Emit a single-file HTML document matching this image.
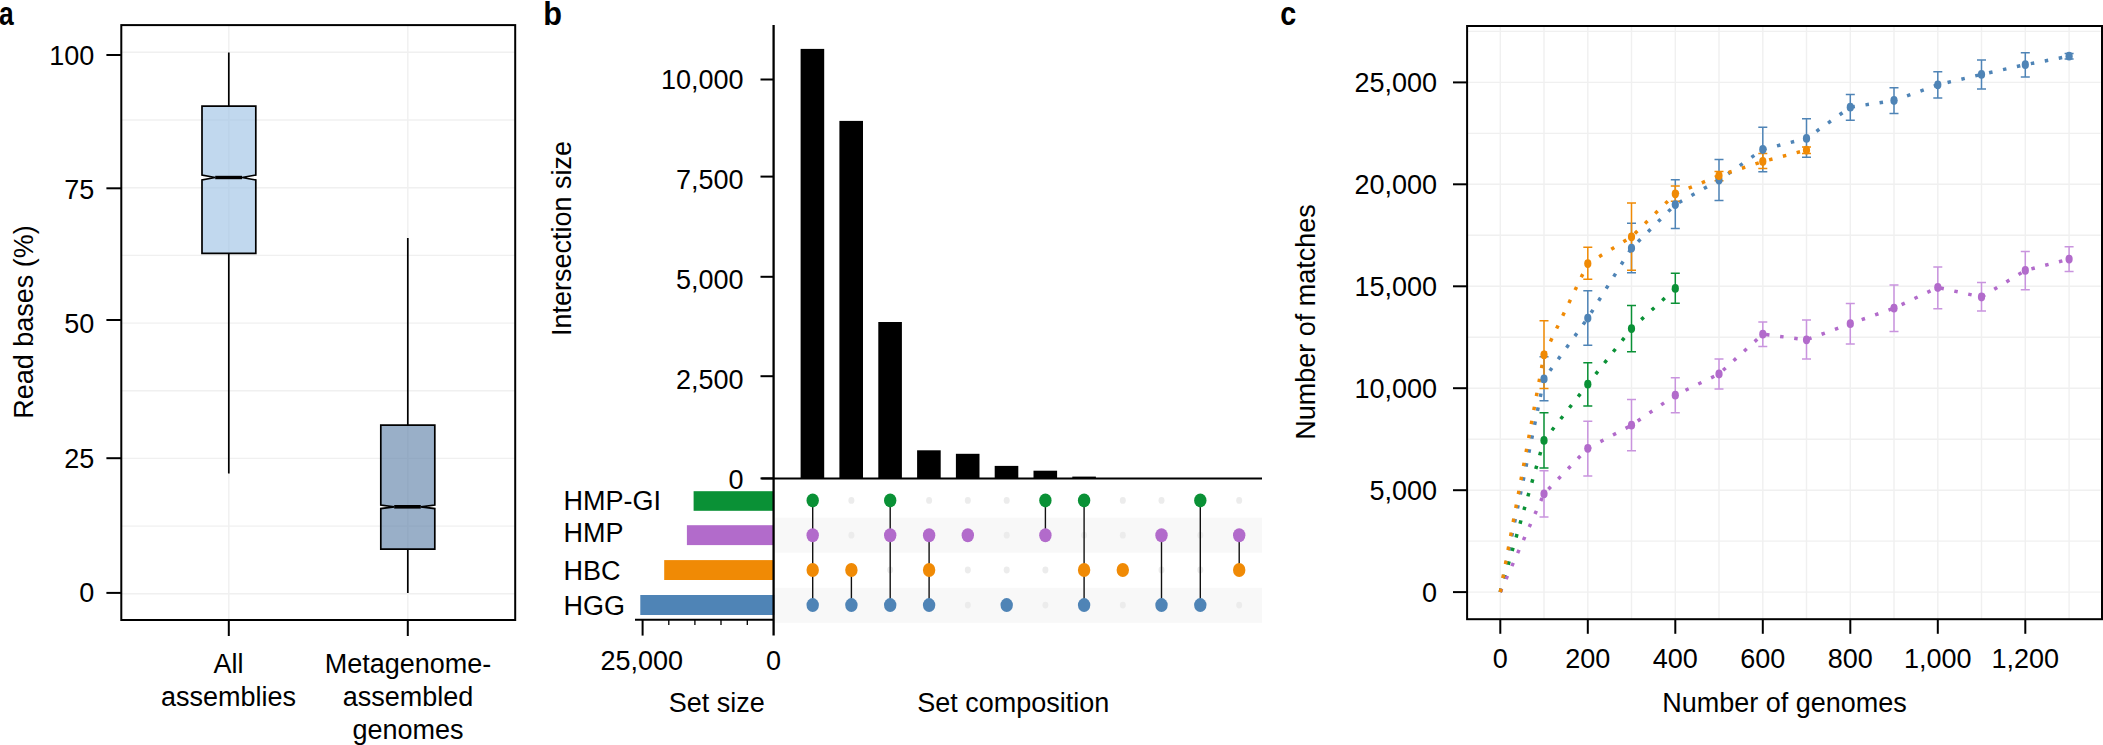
<!DOCTYPE html>
<html><head><meta charset="utf-8"><title>Figure</title>
<style>
html,body{margin:0;padding:0;background:#fff;overflow:hidden;}
svg{display:block;}
text{font-family:"Liberation Sans",Arial,Helvetica,sans-serif;font-size:27px;fill:#000;}
.pl{font-weight:bold;font-size:33px;}
</style></head><body>
<svg width="2103" height="745" viewBox="0 0 2103 745">
<rect width="2103" height="745" fill="#fff"/>
<g id="pa">
<line x1="121.3" x2="515.2" y1="52.3" y2="52.3" stroke="#f0f0f0" stroke-width="1.4"/>
<line x1="121.3" x2="515.2" y1="120.0" y2="120.0" stroke="#f0f0f0" stroke-width="1.4"/>
<line x1="121.3" x2="515.2" y1="187.7" y2="187.7" stroke="#f0f0f0" stroke-width="1.4"/>
<line x1="121.3" x2="515.2" y1="255.4" y2="255.4" stroke="#f0f0f0" stroke-width="1.4"/>
<line x1="121.3" x2="515.2" y1="323.1" y2="323.1" stroke="#f0f0f0" stroke-width="1.4"/>
<line x1="121.3" x2="515.2" y1="390.8" y2="390.8" stroke="#f0f0f0" stroke-width="1.4"/>
<line x1="121.3" x2="515.2" y1="458.4" y2="458.4" stroke="#f0f0f0" stroke-width="1.4"/>
<line x1="121.3" x2="515.2" y1="526.1" y2="526.1" stroke="#f0f0f0" stroke-width="1.4"/>
<line x1="121.3" x2="515.2" y1="593.8" y2="593.8" stroke="#f0f0f0" stroke-width="1.4"/>
<line x1="228.8" x2="228.8" y1="25.1" y2="620" stroke="#f0f0f0" stroke-width="1.4"/>
<line x1="407.8" x2="407.8" y1="25.1" y2="620" stroke="#f0f0f0" stroke-width="1.4"/>
<path d="M228.8 52.4 V106.2 M228.8 253.3 V473.4" stroke="#000" stroke-width="1.7" fill="none"/>
<path d="M407.8 238.1 V425.1 M407.8 549.2 V592.9" stroke="#000" stroke-width="1.7" fill="none"/>
<path d="M202 106.2 H255.8 V175 L242 177.5 L255.8 180 V253.3 H202 V180 L215.2 177.5 L202 175 Z" fill="#a0c3e5" fill-opacity="0.65" stroke="#000" stroke-width="1.7" stroke-linejoin="miter"/>
<line x1="215.2" x2="242" y1="177.5" y2="177.5" stroke="#000" stroke-width="3.4"/>
<path d="M380.8 425.1 H434.8 V505 L420.8 506.8 L434.8 508.6 V549.2 H380.8 V508.6 L394.2 506.8 L380.8 505 Z" fill="#6284aa" fill-opacity="0.65" stroke="#000" stroke-width="1.7"/>
<line x1="394.2" x2="420.8" y1="506.8" y2="506.8" stroke="#000" stroke-width="3.6"/>
<rect x="121.3" y="25.1" width="393.9" height="594.9" fill="none" stroke="#000" stroke-width="2"/>
<line x1="106.4" x2="121.3" y1="55" y2="55" stroke="#000" stroke-width="2"/>
<text x="94.3" y="64.5" text-anchor="end">100</text>
<line x1="106.4" x2="121.3" y1="188.3" y2="188.3" stroke="#000" stroke-width="2"/>
<text x="94.3" y="198.5" text-anchor="end">75</text>
<line x1="106.4" x2="121.3" y1="320" y2="320" stroke="#000" stroke-width="2"/>
<text x="94.3" y="333.0" text-anchor="end">50</text>
<line x1="106.4" x2="121.3" y1="458.2" y2="458.2" stroke="#000" stroke-width="2"/>
<text x="94.3" y="467.5" text-anchor="end">25</text>
<line x1="106.4" x2="121.3" y1="592.9" y2="592.9" stroke="#000" stroke-width="2"/>
<text x="94.3" y="602.2" text-anchor="end">0</text>
<line x1="228.8" x2="228.8" y1="620" y2="636" stroke="#000" stroke-width="2"/>
<line x1="407.8" x2="407.8" y1="620" y2="636" stroke="#000" stroke-width="2"/>
<text x="228.4" y="673" text-anchor="middle">All</text>
<text x="228.6" y="705.8" text-anchor="middle">assemblies</text>
<text x="408" y="673" text-anchor="middle">Metagenome-</text>
<text x="408" y="705.8" text-anchor="middle">assembled</text>
<text x="408" y="738.7" text-anchor="middle">genomes</text>
<text transform="translate(32.5,322) rotate(-90)" text-anchor="middle">Read bases (%)</text>
<text class="pl" transform="translate(-1,24.6) scale(0.8,1)">a</text>
</g>
<g id="pb">
<text class="pl" transform="translate(543.2,24.6) scale(0.93,1)">b</text>
<rect x="775" y="517.7" width="487" height="35" fill="#f8f8f8"/>
<rect x="775" y="587.8" width="487" height="35" fill="#f8f8f8"/>
<rect x="800.6" y="48.9" width="23.6" height="429.5" fill="#000"/>
<rect x="839.4" y="120.9" width="23.6" height="357.5" fill="#000"/>
<rect x="878.3" y="322" width="23.6" height="156.4" fill="#000"/>
<rect x="917.1" y="450.3" width="23.6" height="28.1" fill="#000"/>
<rect x="955.9" y="453.8" width="23.6" height="24.6" fill="#000"/>
<rect x="994.7" y="465.9" width="23.6" height="12.5" fill="#000"/>
<rect x="1033.5" y="470.7" width="23.6" height="7.7" fill="#000"/>
<rect x="1072.3" y="476.6" width="23.6" height="1.8" fill="#000"/>
<rect x="693.6" y="491.2" width="80" height="19.6" fill="#0a9136"/>
<rect x="686.9" y="525.2" width="87" height="19.9" fill="#b26bcb"/>
<rect x="664.2" y="560.1" width="110" height="19.9" fill="#f08a05"/>
<rect x="640.3" y="595" width="134" height="20" fill="#4f84b6"/>
<line x1="773.6" x2="773.6" y1="25" y2="635.6" stroke="#000" stroke-width="2.3"/>
<line x1="761.5" x2="1262" y1="478.4" y2="478.4" stroke="#000" stroke-width="2"/>
<line x1="760.5" x2="773.6" y1="79.5" y2="79.5" stroke="#000" stroke-width="2"/>
<text x="743.6" y="88.9" text-anchor="end">10,000</text>
<line x1="760.5" x2="773.6" y1="176.6" y2="176.6" stroke="#000" stroke-width="2"/>
<text x="743.6" y="188.7" text-anchor="end">7,500</text>
<line x1="760.5" x2="773.6" y1="276.8" y2="276.8" stroke="#000" stroke-width="2"/>
<text x="743.6" y="288.7" text-anchor="end">5,000</text>
<line x1="760.5" x2="773.6" y1="376.2" y2="376.2" stroke="#000" stroke-width="2"/>
<text x="743.6" y="388.6" text-anchor="end">2,500</text>
<line x1="760.5" x2="773.6" y1="478.4" y2="478.4" stroke="#000" stroke-width="2"/>
<text x="743.6" y="488.5" text-anchor="end">0</text>
<line x1="635" x2="773.6" y1="619.8" y2="619.8" stroke="#000" stroke-width="2"/>
<line x1="642.6" x2="642.6" y1="619.8" y2="635.6" stroke="#000" stroke-width="2"/>
<line x1="668.8" x2="668.8" y1="619.8" y2="625" stroke="#000" stroke-width="1.3"/>
<line x1="694.9" x2="694.9" y1="619.8" y2="625" stroke="#000" stroke-width="1.3"/>
<line x1="721" x2="721" y1="619.8" y2="625" stroke="#000" stroke-width="1.3"/>
<line x1="747.3" x2="747.3" y1="619.8" y2="625" stroke="#000" stroke-width="1.3"/>
<text x="641.8" y="670.2" text-anchor="middle">25,000</text>
<text x="773.4" y="670.2" text-anchor="middle">0</text>
<text x="716.8" y="712.1" text-anchor="middle">Set size</text>
<text x="1013.2" y="712.1" text-anchor="middle">Set composition</text>
<text transform="translate(571,238.5) rotate(-90)" text-anchor="middle">Intersection size</text>
<text x="563.6" y="509.6">HMP-GI</text>
<text x="563.6" y="541.8">HMP</text>
<text x="563.6" y="580">HBC</text>
<text x="563.6" y="614.5">HGG</text>
<ellipse cx="812.7" cy="500.4" rx="3" ry="3.4" fill="#ececec"/>
<ellipse cx="812.7" cy="535.2" rx="3" ry="3.4" fill="#ececec"/>
<ellipse cx="812.7" cy="570" rx="3" ry="3.4" fill="#ececec"/>
<ellipse cx="812.7" cy="605.1" rx="3" ry="3.4" fill="#ececec"/>
<ellipse cx="851.4" cy="500.4" rx="3" ry="3.4" fill="#ececec"/>
<ellipse cx="851.4" cy="535.2" rx="3" ry="3.4" fill="#ececec"/>
<ellipse cx="851.4" cy="570" rx="3" ry="3.4" fill="#ececec"/>
<ellipse cx="851.4" cy="605.1" rx="3" ry="3.4" fill="#ececec"/>
<ellipse cx="890.2" cy="500.4" rx="3" ry="3.4" fill="#ececec"/>
<ellipse cx="890.2" cy="535.2" rx="3" ry="3.4" fill="#ececec"/>
<ellipse cx="890.2" cy="570" rx="3" ry="3.4" fill="#ececec"/>
<ellipse cx="890.2" cy="605.1" rx="3" ry="3.4" fill="#ececec"/>
<ellipse cx="929.1" cy="500.4" rx="3" ry="3.4" fill="#ececec"/>
<ellipse cx="929.1" cy="535.2" rx="3" ry="3.4" fill="#ececec"/>
<ellipse cx="929.1" cy="570" rx="3" ry="3.4" fill="#ececec"/>
<ellipse cx="929.1" cy="605.1" rx="3" ry="3.4" fill="#ececec"/>
<ellipse cx="967.8" cy="500.4" rx="3" ry="3.4" fill="#ececec"/>
<ellipse cx="967.8" cy="535.2" rx="3" ry="3.4" fill="#ececec"/>
<ellipse cx="967.8" cy="570" rx="3" ry="3.4" fill="#ececec"/>
<ellipse cx="967.8" cy="605.1" rx="3" ry="3.4" fill="#ececec"/>
<ellipse cx="1006.7" cy="500.4" rx="3" ry="3.4" fill="#ececec"/>
<ellipse cx="1006.7" cy="535.2" rx="3" ry="3.4" fill="#ececec"/>
<ellipse cx="1006.7" cy="570" rx="3" ry="3.4" fill="#ececec"/>
<ellipse cx="1006.7" cy="605.1" rx="3" ry="3.4" fill="#ececec"/>
<ellipse cx="1045.4" cy="500.4" rx="3" ry="3.4" fill="#ececec"/>
<ellipse cx="1045.4" cy="535.2" rx="3" ry="3.4" fill="#ececec"/>
<ellipse cx="1045.4" cy="570" rx="3" ry="3.4" fill="#ececec"/>
<ellipse cx="1045.4" cy="605.1" rx="3" ry="3.4" fill="#ececec"/>
<ellipse cx="1084.1" cy="500.4" rx="3" ry="3.4" fill="#ececec"/>
<ellipse cx="1084.1" cy="535.2" rx="3" ry="3.4" fill="#ececec"/>
<ellipse cx="1084.1" cy="570" rx="3" ry="3.4" fill="#ececec"/>
<ellipse cx="1084.1" cy="605.1" rx="3" ry="3.4" fill="#ececec"/>
<ellipse cx="1122.8" cy="500.4" rx="3" ry="3.4" fill="#ececec"/>
<ellipse cx="1122.8" cy="535.2" rx="3" ry="3.4" fill="#ececec"/>
<ellipse cx="1122.8" cy="570" rx="3" ry="3.4" fill="#ececec"/>
<ellipse cx="1122.8" cy="605.1" rx="3" ry="3.4" fill="#ececec"/>
<ellipse cx="1161.5" cy="500.4" rx="3" ry="3.4" fill="#ececec"/>
<ellipse cx="1161.5" cy="535.2" rx="3" ry="3.4" fill="#ececec"/>
<ellipse cx="1161.5" cy="570" rx="3" ry="3.4" fill="#ececec"/>
<ellipse cx="1161.5" cy="605.1" rx="3" ry="3.4" fill="#ececec"/>
<ellipse cx="1200.3" cy="500.4" rx="3" ry="3.4" fill="#ececec"/>
<ellipse cx="1200.3" cy="535.2" rx="3" ry="3.4" fill="#ececec"/>
<ellipse cx="1200.3" cy="570" rx="3" ry="3.4" fill="#ececec"/>
<ellipse cx="1200.3" cy="605.1" rx="3" ry="3.4" fill="#ececec"/>
<ellipse cx="1239.2" cy="500.4" rx="3" ry="3.4" fill="#ececec"/>
<ellipse cx="1239.2" cy="535.2" rx="3" ry="3.4" fill="#ececec"/>
<ellipse cx="1239.2" cy="570" rx="3" ry="3.4" fill="#ececec"/>
<ellipse cx="1239.2" cy="605.1" rx="3" ry="3.4" fill="#ececec"/>
<line x1="812.7" x2="812.7" y1="500.4" y2="605.1" stroke="#111" stroke-width="1.4"/>
<ellipse cx="812.7" cy="500.4" rx="6.2" ry="7" fill="#0a9136"/>
<ellipse cx="812.7" cy="535.2" rx="6.2" ry="7" fill="#b26bcb"/>
<ellipse cx="812.7" cy="570" rx="6.2" ry="7" fill="#f08a05"/>
<ellipse cx="812.7" cy="605.1" rx="6.2" ry="7" fill="#4f84b6"/>
<line x1="851.4" x2="851.4" y1="570" y2="605.1" stroke="#111" stroke-width="1.4"/>
<ellipse cx="851.4" cy="570" rx="6.2" ry="7" fill="#f08a05"/>
<ellipse cx="851.4" cy="605.1" rx="6.2" ry="7" fill="#4f84b6"/>
<line x1="890.2" x2="890.2" y1="500.4" y2="605.1" stroke="#111" stroke-width="1.4"/>
<ellipse cx="890.2" cy="500.4" rx="6.2" ry="7" fill="#0a9136"/>
<ellipse cx="890.2" cy="535.2" rx="6.2" ry="7" fill="#b26bcb"/>
<ellipse cx="890.2" cy="605.1" rx="6.2" ry="7" fill="#4f84b6"/>
<line x1="929.1" x2="929.1" y1="535.2" y2="605.1" stroke="#111" stroke-width="1.4"/>
<ellipse cx="929.1" cy="535.2" rx="6.2" ry="7" fill="#b26bcb"/>
<ellipse cx="929.1" cy="570" rx="6.2" ry="7" fill="#f08a05"/>
<ellipse cx="929.1" cy="605.1" rx="6.2" ry="7" fill="#4f84b6"/>
<ellipse cx="967.8" cy="535.2" rx="6.2" ry="7" fill="#b26bcb"/>
<ellipse cx="1006.7" cy="605.1" rx="6.2" ry="7" fill="#4f84b6"/>
<line x1="1045.4" x2="1045.4" y1="500.4" y2="535.2" stroke="#111" stroke-width="1.4"/>
<ellipse cx="1045.4" cy="500.4" rx="6.2" ry="7" fill="#0a9136"/>
<ellipse cx="1045.4" cy="535.2" rx="6.2" ry="7" fill="#b26bcb"/>
<line x1="1084.1" x2="1084.1" y1="500.4" y2="605.1" stroke="#111" stroke-width="1.4"/>
<ellipse cx="1084.1" cy="500.4" rx="6.2" ry="7" fill="#0a9136"/>
<ellipse cx="1084.1" cy="570" rx="6.2" ry="7" fill="#f08a05"/>
<ellipse cx="1084.1" cy="605.1" rx="6.2" ry="7" fill="#4f84b6"/>
<ellipse cx="1122.8" cy="570" rx="6.2" ry="7" fill="#f08a05"/>
<line x1="1161.5" x2="1161.5" y1="535.2" y2="605.1" stroke="#111" stroke-width="1.4"/>
<ellipse cx="1161.5" cy="535.2" rx="6.2" ry="7" fill="#b26bcb"/>
<ellipse cx="1161.5" cy="605.1" rx="6.2" ry="7" fill="#4f84b6"/>
<line x1="1200.3" x2="1200.3" y1="500.4" y2="605.1" stroke="#111" stroke-width="1.4"/>
<ellipse cx="1200.3" cy="500.4" rx="6.2" ry="7" fill="#0a9136"/>
<ellipse cx="1200.3" cy="605.1" rx="6.2" ry="7" fill="#4f84b6"/>
<line x1="1239.2" x2="1239.2" y1="535.2" y2="570" stroke="#111" stroke-width="1.4"/>
<ellipse cx="1239.2" cy="535.2" rx="6.2" ry="7" fill="#b26bcb"/>
<ellipse cx="1239.2" cy="570" rx="6.2" ry="7" fill="#f08a05"/>
</g>
<g id="pc">
<text class="pl" transform="translate(1280.2,24.6) scale(0.87,1)">c</text>
<line x1="1467.1" x2="2100.5" y1="592.1" y2="592.1" stroke="#f0f0f0" stroke-width="1.4"/>
<line x1="1467.1" x2="2100.5" y1="541.1" y2="541.1" stroke="#f0f0f0" stroke-width="1.4"/>
<line x1="1467.1" x2="2100.5" y1="490.2" y2="490.2" stroke="#f0f0f0" stroke-width="1.4"/>
<line x1="1467.1" x2="2100.5" y1="439.2" y2="439.2" stroke="#f0f0f0" stroke-width="1.4"/>
<line x1="1467.1" x2="2100.5" y1="388.2" y2="388.2" stroke="#f0f0f0" stroke-width="1.4"/>
<line x1="1467.1" x2="2100.5" y1="337.2" y2="337.2" stroke="#f0f0f0" stroke-width="1.4"/>
<line x1="1467.1" x2="2100.5" y1="286.3" y2="286.3" stroke="#f0f0f0" stroke-width="1.4"/>
<line x1="1467.1" x2="2100.5" y1="235.3" y2="235.3" stroke="#f0f0f0" stroke-width="1.4"/>
<line x1="1467.1" x2="2100.5" y1="184.3" y2="184.3" stroke="#f0f0f0" stroke-width="1.4"/>
<line x1="1467.1" x2="2100.5" y1="133.4" y2="133.4" stroke="#f0f0f0" stroke-width="1.4"/>
<line x1="1467.1" x2="2100.5" y1="82.4" y2="82.4" stroke="#f0f0f0" stroke-width="1.4"/>
<line x1="1467.1" x2="2100.5" y1="31.4" y2="31.4" stroke="#f0f0f0" stroke-width="1.4"/>
<line x1="1500.3" x2="1500.3" y1="26" y2="619.2" stroke="#f0f0f0" stroke-width="1.4"/>
<line x1="1544.0" x2="1544.0" y1="26" y2="619.2" stroke="#f0f0f0" stroke-width="1.4"/>
<line x1="1587.8" x2="1587.8" y1="26" y2="619.2" stroke="#f0f0f0" stroke-width="1.4"/>
<line x1="1631.5" x2="1631.5" y1="26" y2="619.2" stroke="#f0f0f0" stroke-width="1.4"/>
<line x1="1675.3" x2="1675.3" y1="26" y2="619.2" stroke="#f0f0f0" stroke-width="1.4"/>
<line x1="1719.0" x2="1719.0" y1="26" y2="619.2" stroke="#f0f0f0" stroke-width="1.4"/>
<line x1="1762.8" x2="1762.8" y1="26" y2="619.2" stroke="#f0f0f0" stroke-width="1.4"/>
<line x1="1806.5" x2="1806.5" y1="26" y2="619.2" stroke="#f0f0f0" stroke-width="1.4"/>
<line x1="1850.3" x2="1850.3" y1="26" y2="619.2" stroke="#f0f0f0" stroke-width="1.4"/>
<line x1="1894.0" x2="1894.0" y1="26" y2="619.2" stroke="#f0f0f0" stroke-width="1.4"/>
<line x1="1937.8" x2="1937.8" y1="26" y2="619.2" stroke="#f0f0f0" stroke-width="1.4"/>
<line x1="1981.5" x2="1981.5" y1="26" y2="619.2" stroke="#f0f0f0" stroke-width="1.4"/>
<line x1="2025.3" x2="2025.3" y1="26" y2="619.2" stroke="#f0f0f0" stroke-width="1.4"/>
<line x1="2069.1" x2="2069.1" y1="26" y2="619.2" stroke="#f0f0f0" stroke-width="1.4"/>
<path d="M1500.3 592.1 L1544.0 378.9 L1587.8 318.1 L1631.5 248.1 L1675.3 204.6 L1719.0 180.1 L1762.8 149.5 L1806.5 138.4 L1850.3 107.2 L1894.0 100.5 L1937.8 84.8 L1981.5 74.4 L2025.3 64.7 L2069.1 56.2" fill="none" stroke="#4f84b6" stroke-width="3.5" stroke-dasharray="3.5 10.73"/>
<path d="M1500.3 592.1 L1544.0 440.4 L1587.8 384.2 L1631.5 328.6 L1675.3 288.4" fill="none" stroke="#0a9136" stroke-width="3.5" stroke-dasharray="3.5 10.73"/>
<path d="M1500.3 592.1 L1544.0 493.8 L1587.8 448.3 L1631.5 425.2 L1675.3 395.2 L1719.0 374.0 L1762.8 334.2 L1806.5 339.8 L1850.3 323.7 L1894.0 308.2 L1937.8 287.5 L1981.5 297.0 L2025.3 270.4 L2069.1 259.1" fill="none" stroke="#b26bcb" stroke-width="3.5" stroke-dasharray="3.5 10.73"/>
<path d="M1500.3 592.1 L1544.0 354.8 L1587.8 263.6 L1631.5 236.8 L1675.3 193.8 L1719.0 175.6 L1762.8 161.5 L1806.5 150.1" fill="none" stroke="#f08a05" stroke-width="3.5" stroke-dasharray="3.5 10.73"/>
<path d="M1544.0 356.8 V400.7 M1539.5 356.8 h9 M1539.5 400.7 h9" fill="none" stroke="#4f84b6" stroke-width="1.5"/>
<path d="M1587.8 290.8 V345.3 M1583.3 290.8 h9 M1583.3 345.3 h9" fill="none" stroke="#4f84b6" stroke-width="1.5"/>
<path d="M1631.5 223.2 V272.7 M1627.0 223.2 h9 M1627.0 272.7 h9" fill="none" stroke="#4f84b6" stroke-width="1.5"/>
<path d="M1675.3 179.7 V228.6 M1670.8 179.7 h9 M1670.8 228.6 h9" fill="none" stroke="#4f84b6" stroke-width="1.5"/>
<path d="M1719.0 159.5 V200.6 M1714.5 159.5 h9 M1714.5 200.6 h9" fill="none" stroke="#4f84b6" stroke-width="1.5"/>
<path d="M1762.8 127.3 V171.8 M1758.3 127.3 h9 M1758.3 171.8 h9" fill="none" stroke="#4f84b6" stroke-width="1.5"/>
<path d="M1806.5 118.7 V157.3 M1802.0 118.7 h9 M1802.0 157.3 h9" fill="none" stroke="#4f84b6" stroke-width="1.5"/>
<path d="M1850.3 94.5 V120.3 M1845.8 94.5 h9 M1845.8 120.3 h9" fill="none" stroke="#4f84b6" stroke-width="1.5"/>
<path d="M1894.0 87.8 V113.4 M1889.5 87.8 h9 M1889.5 113.4 h9" fill="none" stroke="#4f84b6" stroke-width="1.5"/>
<path d="M1937.8 71.7 V97.9 M1933.3 71.7 h9 M1933.3 97.9 h9" fill="none" stroke="#4f84b6" stroke-width="1.5"/>
<path d="M1981.5 60.1 V88.9 M1977.0 60.1 h9 M1977.0 88.9 h9" fill="none" stroke="#4f84b6" stroke-width="1.5"/>
<path d="M2025.3 52.8 V77 M2020.8 52.8 h9 M2020.8 77 h9" fill="none" stroke="#4f84b6" stroke-width="1.5"/>
<path d="M2069.1 53.6 V58.9 M2064.6 53.6 h9 M2064.6 58.9 h9" fill="none" stroke="#4f84b6" stroke-width="1.5"/>
<path d="M1544.0 320.7 V388.6 M1539.5 320.7 h9 M1539.5 388.6 h9" fill="none" stroke="#f08a05" stroke-width="1.5"/>
<path d="M1587.8 247.3 V279.3 M1583.3 247.3 h9 M1583.3 279.3 h9" fill="none" stroke="#f08a05" stroke-width="1.5"/>
<path d="M1631.5 203 V270.3 M1627.0 203 h9 M1627.0 270.3 h9" fill="none" stroke="#f08a05" stroke-width="1.5"/>
<path d="M1675.3 186.1 V201.2 M1670.8 186.1 h9 M1670.8 201.2 h9" fill="none" stroke="#f08a05" stroke-width="1.5"/>
<path d="M1719.0 171.6 V180.7 M1714.5 171.6 h9 M1714.5 180.7 h9" fill="none" stroke="#f08a05" stroke-width="1.5"/>
<path d="M1762.8 153.5 V168.6 M1758.3 153.5 h9 M1758.3 168.6 h9" fill="none" stroke="#f08a05" stroke-width="1.5"/>
<path d="M1806.5 147 V153.5 M1802.0 147 h9 M1802.0 153.5 h9" fill="none" stroke="#f08a05" stroke-width="1.5"/>
<path d="M1544.0 412.7 V467.9 M1539.5 412.7 h9 M1539.5 467.9 h9" fill="none" stroke="#0a9136" stroke-width="1.5"/>
<path d="M1587.8 362.8 V405.9 M1583.3 362.8 h9 M1583.3 405.9 h9" fill="none" stroke="#0a9136" stroke-width="1.5"/>
<path d="M1631.5 305.5 V351.7 M1627.0 305.5 h9 M1627.0 351.7 h9" fill="none" stroke="#0a9136" stroke-width="1.5"/>
<path d="M1675.3 273.3 V303.3 M1670.8 273.3 h9 M1670.8 303.3 h9" fill="none" stroke="#0a9136" stroke-width="1.5"/>
<path d="M1544.0 470.7 V517 M1539.5 470.7 h9 M1539.5 517 h9" fill="none" stroke="#c994de" stroke-width="1.5"/>
<path d="M1587.8 421.2 V475.9 M1583.3 421.2 h9 M1583.3 475.9 h9" fill="none" stroke="#c994de" stroke-width="1.5"/>
<path d="M1631.5 399.5 V450.7 M1627.0 399.5 h9 M1627.0 450.7 h9" fill="none" stroke="#c994de" stroke-width="1.5"/>
<path d="M1675.3 377.7 V412.7 M1670.8 377.7 h9 M1670.8 412.7 h9" fill="none" stroke="#c994de" stroke-width="1.5"/>
<path d="M1719.0 359.1 V388.9 M1714.5 359.1 h9 M1714.5 388.9 h9" fill="none" stroke="#c994de" stroke-width="1.5"/>
<path d="M1762.8 322.1 V346.4 M1758.3 322.1 h9 M1758.3 346.4 h9" fill="none" stroke="#c994de" stroke-width="1.5"/>
<path d="M1806.5 320.1 V358.9 M1802.0 320.1 h9 M1802.0 358.9 h9" fill="none" stroke="#c994de" stroke-width="1.5"/>
<path d="M1850.3 303.4 V344 M1845.8 303.4 h9 M1845.8 344 h9" fill="none" stroke="#c994de" stroke-width="1.5"/>
<path d="M1894.0 284.9 V331.4 M1889.5 284.9 h9 M1889.5 331.4 h9" fill="none" stroke="#c994de" stroke-width="1.5"/>
<path d="M1937.8 267 V308.7 M1933.3 267 h9 M1933.3 308.7 h9" fill="none" stroke="#c994de" stroke-width="1.5"/>
<path d="M1981.5 282.5 V311.1 M1977.0 282.5 h9 M1977.0 311.1 h9" fill="none" stroke="#c994de" stroke-width="1.5"/>
<path d="M2025.3 251.5 V289.7 M2020.8 251.5 h9 M2020.8 289.7 h9" fill="none" stroke="#c994de" stroke-width="1.5"/>
<path d="M2069.1 246.8 V271.6 M2064.6 246.8 h9 M2064.6 271.6 h9" fill="none" stroke="#c994de" stroke-width="1.5"/>
<ellipse cx="1544.0" cy="378.9" rx="3.6" ry="4.4" fill="#4f84b6"/>
<ellipse cx="1587.8" cy="318.1" rx="3.6" ry="4.4" fill="#4f84b6"/>
<ellipse cx="1631.5" cy="248.1" rx="3.6" ry="4.4" fill="#4f84b6"/>
<ellipse cx="1675.3" cy="204.6" rx="3.6" ry="4.4" fill="#4f84b6"/>
<ellipse cx="1719.0" cy="180.1" rx="3.6" ry="4.4" fill="#4f84b6"/>
<ellipse cx="1762.8" cy="149.5" rx="3.6" ry="4.4" fill="#4f84b6"/>
<ellipse cx="1806.5" cy="138.4" rx="3.6" ry="4.4" fill="#4f84b6"/>
<ellipse cx="1850.3" cy="107.2" rx="3.6" ry="4.4" fill="#4f84b6"/>
<ellipse cx="1894.0" cy="100.5" rx="3.6" ry="4.4" fill="#4f84b6"/>
<ellipse cx="1937.8" cy="84.8" rx="3.6" ry="4.4" fill="#4f84b6"/>
<ellipse cx="1981.5" cy="74.4" rx="3.6" ry="4.4" fill="#4f84b6"/>
<ellipse cx="2025.3" cy="64.7" rx="3.6" ry="4.4" fill="#4f84b6"/>
<ellipse cx="2069.1" cy="56.2" rx="3.6" ry="4.4" fill="#4f84b6"/>
<ellipse cx="1544.0" cy="354.8" rx="3.6" ry="4.4" fill="#f08a05"/>
<ellipse cx="1587.8" cy="263.6" rx="3.6" ry="4.4" fill="#f08a05"/>
<ellipse cx="1631.5" cy="236.8" rx="3.6" ry="4.4" fill="#f08a05"/>
<ellipse cx="1675.3" cy="193.8" rx="3.6" ry="4.4" fill="#f08a05"/>
<ellipse cx="1719.0" cy="175.6" rx="3.6" ry="4.4" fill="#f08a05"/>
<ellipse cx="1762.8" cy="161.5" rx="3.6" ry="4.4" fill="#f08a05"/>
<ellipse cx="1806.5" cy="150.1" rx="3.6" ry="4.4" fill="#f08a05"/>
<ellipse cx="1544.0" cy="440.4" rx="3.6" ry="4.4" fill="#0a9136"/>
<ellipse cx="1587.8" cy="384.2" rx="3.6" ry="4.4" fill="#0a9136"/>
<ellipse cx="1631.5" cy="328.6" rx="3.6" ry="4.4" fill="#0a9136"/>
<ellipse cx="1675.3" cy="288.4" rx="3.6" ry="4.4" fill="#0a9136"/>
<ellipse cx="1544.0" cy="493.8" rx="3.6" ry="4.4" fill="#b26bcb"/>
<ellipse cx="1587.8" cy="448.3" rx="3.6" ry="4.4" fill="#b26bcb"/>
<ellipse cx="1631.5" cy="425.2" rx="3.6" ry="4.4" fill="#b26bcb"/>
<ellipse cx="1675.3" cy="395.2" rx="3.6" ry="4.4" fill="#b26bcb"/>
<ellipse cx="1719.0" cy="374" rx="3.6" ry="4.4" fill="#b26bcb"/>
<ellipse cx="1762.8" cy="334.2" rx="3.6" ry="4.4" fill="#b26bcb"/>
<ellipse cx="1806.5" cy="339.8" rx="3.6" ry="4.4" fill="#b26bcb"/>
<ellipse cx="1850.3" cy="323.7" rx="3.6" ry="4.4" fill="#b26bcb"/>
<ellipse cx="1894.0" cy="308.2" rx="3.6" ry="4.4" fill="#b26bcb"/>
<ellipse cx="1937.8" cy="287.5" rx="3.6" ry="4.4" fill="#b26bcb"/>
<ellipse cx="1981.5" cy="297" rx="3.6" ry="4.4" fill="#b26bcb"/>
<ellipse cx="2025.3" cy="270.4" rx="3.6" ry="4.4" fill="#b26bcb"/>
<ellipse cx="2069.1" cy="259.1" rx="3.6" ry="4.4" fill="#b26bcb"/>
<rect x="1467.1" y="26" width="634.9" height="593.2" fill="none" stroke="#000" stroke-width="2"/>
<line x1="1453" x2="1467.1" y1="592.1" y2="592.1" stroke="#000" stroke-width="2"/>
<text x="1437" y="601.7" text-anchor="end">0</text>
<line x1="1453" x2="1467.1" y1="490.2" y2="490.2" stroke="#000" stroke-width="2"/>
<text x="1437" y="499.8" text-anchor="end">5,000</text>
<line x1="1453" x2="1467.1" y1="388.2" y2="388.2" stroke="#000" stroke-width="2"/>
<text x="1437" y="397.8" text-anchor="end">10,000</text>
<line x1="1453" x2="1467.1" y1="286.3" y2="286.3" stroke="#000" stroke-width="2"/>
<text x="1437" y="295.9" text-anchor="end">15,000</text>
<line x1="1453" x2="1467.1" y1="184.3" y2="184.3" stroke="#000" stroke-width="2"/>
<text x="1437" y="193.9" text-anchor="end">20,000</text>
<line x1="1453" x2="1467.1" y1="82.4" y2="82.4" stroke="#000" stroke-width="2"/>
<text x="1437" y="92.0" text-anchor="end">25,000</text>
<line x1="1500.3" x2="1500.3" y1="619.2" y2="633.8" stroke="#000" stroke-width="2"/>
<text x="1500.3" y="668.4" text-anchor="middle">0</text>
<line x1="1587.8" x2="1587.8" y1="619.2" y2="633.8" stroke="#000" stroke-width="2"/>
<text x="1587.8" y="668.4" text-anchor="middle">200</text>
<line x1="1675.3" x2="1675.3" y1="619.2" y2="633.8" stroke="#000" stroke-width="2"/>
<text x="1675.3" y="668.4" text-anchor="middle">400</text>
<line x1="1762.8" x2="1762.8" y1="619.2" y2="633.8" stroke="#000" stroke-width="2"/>
<text x="1762.8" y="668.4" text-anchor="middle">600</text>
<line x1="1850.3" x2="1850.3" y1="619.2" y2="633.8" stroke="#000" stroke-width="2"/>
<text x="1850.3" y="668.4" text-anchor="middle">800</text>
<line x1="1937.8" x2="1937.8" y1="619.2" y2="633.8" stroke="#000" stroke-width="2"/>
<text x="1937.8" y="668.4" text-anchor="middle">1,000</text>
<line x1="2025.3" x2="2025.3" y1="619.2" y2="633.8" stroke="#000" stroke-width="2"/>
<text x="2025.3" y="668.4" text-anchor="middle">1,200</text>
<text x="1784.5" y="712.4" text-anchor="middle">Number of genomes</text>
<text transform="translate(1314.9,322) rotate(-90)" text-anchor="middle">Number of matches</text>
</g>
</svg></body></html>
